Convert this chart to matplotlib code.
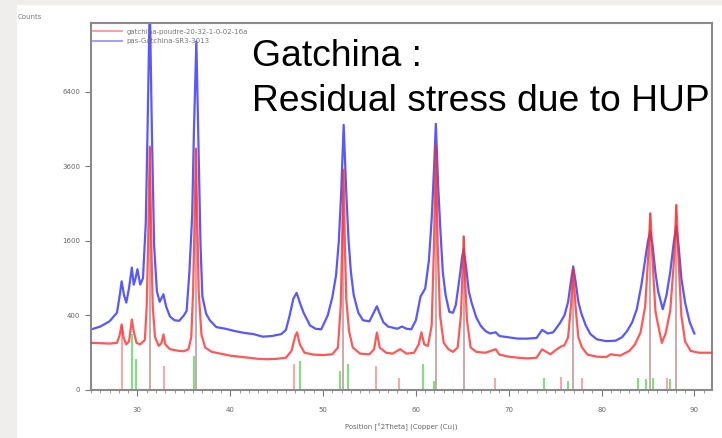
import numpy as np
import matplotlib
matplotlib.use("Agg")
import matplotlib.pyplot as plt
from matplotlib.ticker import MultipleLocator, FixedLocator
from matplotlib.patches import Rectangle

# ---------------- data ----------------
red_x = [25.0, 26.0, 27.0, 27.8, 28.1, 28.3, 28.5, 28.8, 29.1, 29.4, 29.6, 29.9,
         30.3, 30.8, 31.0, 31.15, 31.33, 31.5, 31.65, 31.9, 32.3, 32.6, 32.8, 33.0,
         33.5, 34.0, 34.5, 35.0, 35.5, 35.8, 36.0, 36.15, 36.3, 36.45, 36.6, 36.9,
         37.3, 38.0, 39.0, 40.0, 41.0, 42.0, 43.0, 44.0, 45.0, 46.0, 46.6, 47.0,
         47.2, 47.5, 48.0, 49.0, 50.0, 51.0, 51.6, 51.9, 52.05, 52.2, 52.35, 52.5,
         52.8, 53.2, 54.0, 55.0, 55.5, 55.8, 56.1, 56.8, 57.5, 58.3, 59.0, 59.8,
         60.3, 60.6, 60.9, 61.3, 61.7, 61.95, 62.15, 62.35, 62.6, 63.0, 63.5, 64.0,
         64.5, 64.85, 65.0, 65.15, 65.3, 65.5, 65.9, 66.5, 67.5, 68.6, 69.0, 70.0,
         71.0, 72.0, 73.0, 73.6, 74.5, 75.2, 75.6, 76.0, 76.4, 76.7, 76.95, 77.2,
         77.5, 77.9, 78.5, 79.5, 80.5, 81.0, 82.0, 83.0, 83.6, 84.2, 84.7, 85.0,
         85.26, 85.5, 85.8, 86.1, 86.5, 86.9, 87.4, 87.8, 88.06, 88.3, 88.6, 89.0,
         89.6, 90.5, 91.5, 92.0]
red_y = [160, 158, 155, 160, 220, 310, 200, 150, 170, 358, 250, 160,
         150, 180, 500, 1500, 4270, 1500, 500, 200, 140, 160, 222, 150,
         120, 115, 110, 108, 120, 200, 700, 2000, 4200, 2000, 700, 220,
         130, 105, 95, 85, 80, 75, 70, 68, 70, 75, 110, 210,
         240, 150, 100, 90, 88, 92, 130, 500, 1500, 3500, 1500, 600,
         250, 130, 95, 92, 120, 238, 130, 100, 95, 120, 95, 100,
         150, 240, 150, 140, 300, 1500, 4300, 1500, 400, 160, 120, 105,
         130, 400, 900, 1700, 900, 350, 130, 105, 100, 120, 90, 80,
         75, 72, 75, 119, 92, 120, 135, 145, 200, 500, 1050, 500,
         200, 130, 90, 80, 78, 92, 85, 110, 150, 238, 500, 1200,
         2250, 1200, 450, 300, 160, 230, 450, 1200, 2470, 1200, 400, 170,
         110, 100, 100, 100]

blue_x = [25.0, 26.0, 27.0, 27.8, 28.1, 28.3, 28.55, 28.8, 29.1, 29.4, 29.6, 29.8,
          30.0, 30.3, 30.6, 30.9, 31.1, 31.33, 31.55, 31.8, 32.1, 32.4, 32.8, 33.1,
          33.5, 34.0, 34.5, 35.0, 35.3, 35.6, 35.9, 36.1, 36.35, 36.6, 36.8, 37.0,
          37.4, 37.8, 38.5, 39.5, 40.5, 41.5, 42.5, 43.5, 44.5, 45.5, 46.0, 46.4,
          46.8, 47.15, 47.5, 47.9, 48.6, 49.2, 49.8, 50.5, 51.0, 51.4, 51.7, 51.95,
          52.22, 52.5, 52.75, 53.0, 53.3, 53.8, 54.3, 55.0, 55.5, 55.8, 56.1, 56.5,
          57.0, 57.5, 58.0, 58.5, 59.0, 59.5, 60.0, 60.5, 61.0, 61.4, 61.7, 61.95,
          62.15, 62.4, 62.65, 62.9, 63.2, 63.6, 64.0, 64.3, 64.7, 65.0, 65.15, 65.4,
          65.7, 66.0, 66.5, 67.0, 67.5, 68.0, 68.6, 69.0, 70.0, 71.0, 72.0, 73.0,
          73.6, 74.2, 74.8, 75.5, 76.0, 76.4, 76.7, 76.95, 77.2, 77.5, 77.8, 78.3,
          78.8, 79.5, 80.5, 81.5, 82.2, 82.75, 83.3, 83.8, 84.3, 84.7, 85.0, 85.26,
          85.5, 85.8, 86.1, 86.6, 87.0, 87.4, 87.8, 88.06, 88.3, 88.6, 89.0, 89.5,
          90.0]
blue_y = [264, 290, 340, 430, 650, 850, 650, 550, 750, 1080, 800, 900,
          1050, 800, 900, 2000, 5000, 11000, 5000, 1500, 700, 560, 660, 500,
          390, 350, 345, 400, 450, 1000, 2200, 5000, 8750, 4000, 1500, 630,
          420, 350, 285, 270, 250, 235, 225, 205, 210, 225, 260, 400,
          600, 680, 550, 430, 300, 270, 265, 400, 620, 950, 1600, 2800,
          5060, 2800, 1600, 1000, 650, 430, 350, 340, 440, 505, 420, 330,
          290, 280, 270, 290, 270, 265, 350, 630, 740, 1200, 2100, 3500,
          5100, 3000, 1800, 1000, 650, 440, 430, 520, 900, 1300, 1420, 1100,
          700, 550, 380, 295, 250, 230, 240, 210, 200, 190, 190, 195,
          260, 230, 240, 320, 400, 560, 850, 1100, 850, 560, 430, 300,
          225, 185, 172, 175, 200, 250, 330, 470, 800, 1230, 1600, 1810,
          1500, 1000, 700, 470, 650, 1000, 1600, 1930, 1500, 900, 550, 330,
          230]

# reference pattern sticks
major_x = [31.33, 36.3, 52.2, 62.15, 65.2, 76.95, 85.26, 88.06]
major_h = [4270, 4200, 3500, 4300, 1700, 1050, 2250, 2470]
red_stick_x = [28.35, 32.84, 46.9, 55.7, 58.2, 68.5, 75.6, 77.9, 87.05]
red_stick_h = [300, 41, 47, 41, 10, 10, 13, 10, 10]
green_stick_x = [29.4, 29.85, 36.1, 47.5, 51.8, 52.7, 60.8, 61.9, 73.8, 76.4,
                 83.9, 84.8, 85.5, 87.4]
green_stick_h = [222, 68, 83, 60, 26, 47, 47, 6, 11, 6, 11, 8, 11, 8]

y_ticks = [0, 400, 1600, 3600, 6400]
x_ticks = [30, 40, 50, 60, 70, 80, 90]
legend_labels = ["gatchina-poudre-20-32-1-0-02-16a", "pas-Gatchina-SR3-3013"]

# ---------------- figure ----------------
W, H = 722, 438
fig = plt.figure(figsize=(W / 100, H / 100), dpi=100, facecolor="#f0eeec")
bg = Rectangle((17 / W, 0), 1 - 17 / W, 1 - 5 / H,
               transform=fig.transFigure, facecolor="white",
               edgecolor="none", zorder=-10)
fig.patches.append(bg)

ax = fig.add_axes([91 / W, 1 - 390 / H, (712 - 91) / W, (390 - 23) / H])
ax.set_zorder(5)
ax.set_facecolor("white")


def fwd(v):
    return np.sqrt(np.clip(v, 0, None))


def inv(v):
    return np.square(v)


ax.set_yscale("function", functions=(fwd, inv))

ax.vlines(major_x, 0, major_h, color="#c9a3a3", lw=1.3, zorder=1)
ax.vlines(red_stick_x, 0, red_stick_h, color="#ff9c9c", lw=1.3, zorder=1)
ax.vlines(green_stick_x, 0, green_stick_h, color="#7ee07e", lw=1.5, zorder=1)

ax.plot(blue_x, blue_y, color="#2e2eff", lw=1.6, alpha=0.8, zorder=2,
        label=legend_labels[1])
ax.plot(red_x, red_y, color="#ff2e2e", lw=1.6, alpha=0.8, zorder=3,
        label=legend_labels[0])

ax.set_xlim(25, 91.9)
ax.set_ylim(0, 9700)

ax.yaxis.set_major_locator(FixedLocator(y_ticks))
ax.yaxis.set_minor_locator(FixedLocator([]))
ax.set_yticklabels([str(v) for v in y_ticks])
ax.xaxis.set_major_locator(FixedLocator(x_ticks))
ax.xaxis.set_minor_locator(MultipleLocator(1))

ax.tick_params(axis="y", which="major", length=4.3, width=0.8, color="#777777",
               labelsize=5, labelcolor="#666666", pad=3.5)
ax.tick_params(axis="x", which="major", length=4, width=0.8, color="#777777",
               labelsize=5, labelcolor="#666666", pad=8)
ax.tick_params(axis="x", which="minor", length=2.2, width=0.6, color="#888888")

for s in ax.spines.values():
    s.set_color("#8a8a8a")
    s.set_linewidth(1.5)

ax.set_xlabel("Position [°2Theta] (Copper (Cu))", fontsize=5, color="#666666",
              labelpad=8)

handles, labels = ax.get_legend_handles_labels()
leg = ax.legend(handles[::-1], labels[::-1], loc="upper left",
                bbox_to_anchor=(0.003, 0.985), borderaxespad=0, borderpad=0,
                frameon=False, fontsize=5, handlelength=4.2,
                handletextpad=0.6, labelspacing=0.55)
for t in leg.get_texts():
    t.set_color("#777777")
for l in leg.get_lines():
    l.set_alpha(0.5)
    l.set_linewidth(1.3)

fig.text(18 / W, 1 - 17 / H, "Counts", fontsize=5, color="#777777",
         va="center", ha="left")

fig.text(252 / W, 1 - 66 / H, "Gatchina :", fontsize=26.8, color="black",
         family=["Liberation Sans", "DejaVu Sans"], va="baseline", ha="left",
         zorder=10)
fig.text(252 / W, 1 - 110.5 / H, "Residual stress due to HUP", fontsize=26.8,
         color="black", family=["Liberation Sans", "DejaVu Sans"],
         va="baseline", ha="left", zorder=10)

fig.savefig("out.png", dpi=100, facecolor=fig.get_facecolor())
